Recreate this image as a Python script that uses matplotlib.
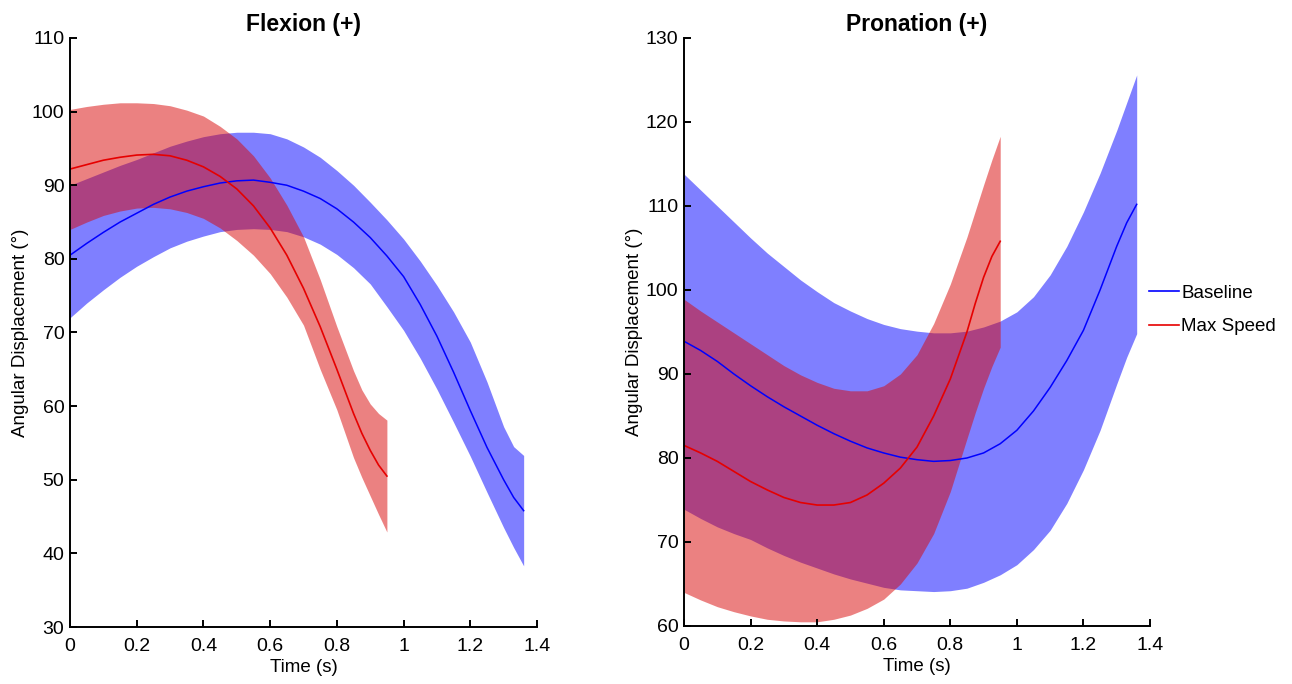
import matplotlib
matplotlib.use("Agg")
import matplotlib.pyplot as plt
from matplotlib.ticker import FuncFormatter
from matplotlib.lines import Line2D

plt.rcParams['font.family'] = ['Liberation Sans', 'DejaVu Sans']

# ---------------- data ----------------
time_baseline = [0.00, 0.05, 0.10, 0.15, 0.20, 0.25, 0.30, 0.35, 0.40, 0.45, 0.50, 0.55, 0.60, 0.65,
                 0.70, 0.75, 0.80, 0.85, 0.90, 0.95, 1.00, 1.05, 1.10, 1.15, 1.20, 1.25, 1.30, 1.33, 1.36]
time_maxspeed = [0.00, 0.05, 0.10, 0.15, 0.20, 0.25, 0.30, 0.35, 0.40, 0.45, 0.50, 0.55, 0.60, 0.65,
                 0.70, 0.75, 0.80, 0.85, 0.875, 0.90, 0.925, 0.95]

# Flexion (+)
flex_base_mean = [80.5, 82.1, 83.6, 85.0, 86.2, 87.4, 88.4, 89.2, 89.8, 90.3, 90.6, 90.7, 90.4, 90.0,
                  89.2, 88.2, 86.8, 85.0, 82.9, 80.4, 77.6, 73.8, 69.5, 64.6, 59.4, 54.4, 50.0, 47.6, 45.8]
flex_base_upper = [90.0, 90.9, 91.8, 92.7, 93.5, 94.4, 95.3, 96.0, 96.6, 97.0, 97.2, 97.2, 97.0, 96.3,
                   95.2, 93.8, 92.0, 90.0, 87.7, 85.3, 82.7, 79.7, 76.4, 72.8, 68.7, 63.3, 57.2, 54.5, 53.3]
flex_base_lower = [72.0, 74.0, 75.8, 77.5, 79.0, 80.3, 81.5, 82.4, 83.1, 83.7, 84.0, 84.1, 84.0, 83.7,
                   83.0, 82.0, 80.6, 78.8, 76.6, 73.5, 70.3, 66.5, 62.3, 57.8, 53.2, 48.3, 43.5, 40.8, 38.3]
flex_max_mean = [92.2, 92.8, 93.4, 93.8, 94.1, 94.2, 94.0, 93.4, 92.5, 91.2, 89.5, 87.2, 84.2, 80.5,
                 76.0, 70.8, 65.0, 59.0, 56.3, 54.0, 52.0, 50.5]
flex_max_upper = [100.3, 100.7, 101.0, 101.2, 101.2, 101.1, 100.8, 100.2, 99.4, 98.0, 96.3, 94.0, 91.0, 87.3,
                  83.0, 77.2, 70.8, 64.8, 62.2, 60.3, 59.0, 58.1]
flex_max_lower = [84.0, 85.0, 85.9, 86.5, 86.9, 87.0, 86.8, 86.3, 85.5, 84.2, 82.5, 80.5, 78.0, 74.8,
                  71.0, 65.0, 59.5, 53.0, 50.3, 47.8, 45.3, 42.9]

# Pronation (+)
pron_base_mean = [93.9, 92.8, 91.5, 90.0, 88.6, 87.3, 86.1, 85.0, 83.9, 82.9, 82.0, 81.2, 80.6, 80.1,
                  79.8, 79.6, 79.7, 80.0, 80.6, 81.7, 83.3, 85.6, 88.4, 91.6, 95.2, 100.0, 105.2, 108.0, 110.2]
pron_base_upper = [113.8, 111.9, 110.0, 108.1, 106.2, 104.4, 102.8, 101.2, 99.8, 98.5, 97.5, 96.6, 95.9, 95.4,
                   95.1, 94.9, 94.9, 95.1, 95.6, 96.3, 97.4, 99.2, 101.8, 105.2, 109.3, 113.9, 119.0, 122.3, 125.6]
pron_base_lower = [73.9, 72.8, 71.8, 71.0, 70.3, 69.3, 68.4, 67.6, 66.9, 66.2, 65.6, 65.1, 64.6, 64.3,
                   64.2, 64.1, 64.2, 64.5, 65.2, 66.1, 67.3, 69.1, 71.4, 74.6, 78.6, 83.3, 88.8, 92.0, 94.8]
pron_max_mean = [81.5, 80.6, 79.6, 78.4, 77.2, 76.2, 75.3, 74.7, 74.4, 74.4, 74.7, 75.6, 77.0, 78.8,
                 81.3, 85.0, 89.4, 95.0, 98.4, 101.5, 104.0, 105.8]
pron_max_upper = [98.9, 97.5, 96.2, 94.9, 93.6, 92.3, 91.0, 89.9, 89.0, 88.3, 88.0, 88.0, 88.6, 90.0,
                  92.3, 96.0, 100.7, 106.3, 109.4, 112.5, 115.5, 118.3]
pron_max_lower = [64.0, 63.1, 62.3, 61.7, 61.2, 60.8, 60.6, 60.5, 60.5, 60.8, 61.3, 62.1, 63.2, 65.0,
                  67.5, 71.0, 76.0, 82.3, 85.4, 88.3, 90.9, 93.2]

titles = ["Flexion (+)", "Pronation (+)"]
series_labels = ["Baseline", "Max Speed"]
xlabel = "Time (s)"
ylabel = "Angular Displacement (°)"
x_ticks = [0, 0.2, 0.4, 0.6, 0.8, 1.0, 1.2, 1.4]
flex_yticks = [30, 40, 50, 60, 70, 80, 90, 100, 110]
pron_yticks = [60, 70, 80, 90, 100, 110, 120, 130]

# ---------------- styling ----------------
BLUE_LINE = (0.0, 0.0, 1.0)
RED_LINE = (0.9, 0.0, 0.0)
BLUE_FILL = (0.0, 0.0, 1.0)
RED_FILL = (0.85, 0.02, 0.02)
TICK_FS = 14
LABEL_FS = 13.5

fig = plt.figure(figsize=(12.92, 6.84), dpi=100)
ax1 = fig.add_axes([70 / 1292, 1 - 627 / 684, 467 / 1292, 589 / 684])
ax2 = fig.add_axes([684 / 1292, 1 - 626 / 684, 466 / 1292, 588 / 684])

panels = [
    (ax1, titles[0], flex_base_mean, flex_base_upper, flex_base_lower,
     flex_max_mean, flex_max_upper, flex_max_lower, flex_yticks),
    (ax2, titles[1], pron_base_mean, pron_base_upper, pron_base_lower,
     pron_max_mean, pron_max_upper, pron_max_lower, pron_yticks),
]

fmt = FuncFormatter(lambda v, p: f"{v:g}")

for ax, title, bm, bu, bl, mm, mu, ml, yt in panels:
    ax.fill_between(time_baseline, bl, bu, color=BLUE_FILL, alpha=0.5, linewidth=0)
    ax.plot(time_baseline, bm, color=BLUE_LINE, lw=1.1)
    ax.fill_between(time_maxspeed, ml, mu, color=RED_FILL, alpha=0.5, linewidth=0)
    ax.plot(time_maxspeed, mm, color=RED_LINE, lw=1.2)

    ax.set_xlim(0, 1.4)
    ax.set_ylim(yt[0], yt[-1])
    ax.set_xticks(x_ticks)
    ax.set_yticks(yt)
    ax.xaxis.set_major_formatter(fmt)
    ax.yaxis.set_major_formatter(fmt)
    for s in ["top", "right"]:
        ax.spines[s].set_visible(False)
    for s in ["left", "bottom"]:
        ax.spines[s].set_linewidth(1.4)
    ax.tick_params(direction="in", length=5, width=1.4, labelsize=TICK_FS)
    ax.tick_params(axis="x", pad=8)
    ax.tick_params(axis="y", pad=4)
    ax.set_title(title, fontsize=16.5, fontweight="bold", pad=5)
    ax.set_xlabel(xlabel, fontsize=LABEL_FS, labelpad=3)
    ax.set_ylabel(ylabel, fontsize=LABEL_FS, labelpad=2)

handles = [Line2D([0], [0], color=BLUE_LINE, lw=1.2),
           Line2D([0], [0], color=RED_LINE, lw=1.2)]
fig.legend(handles, series_labels, loc="center left",
           bbox_to_anchor=(1141 / 1292, 1 - 310 / 684), frameon=False,
           fontsize=LABEL_FS, handlelength=1.6, handletextpad=0.15, labelspacing=0.85,
           borderaxespad=0, borderpad=0.4)

fig.savefig("out.png", dpi=100)
